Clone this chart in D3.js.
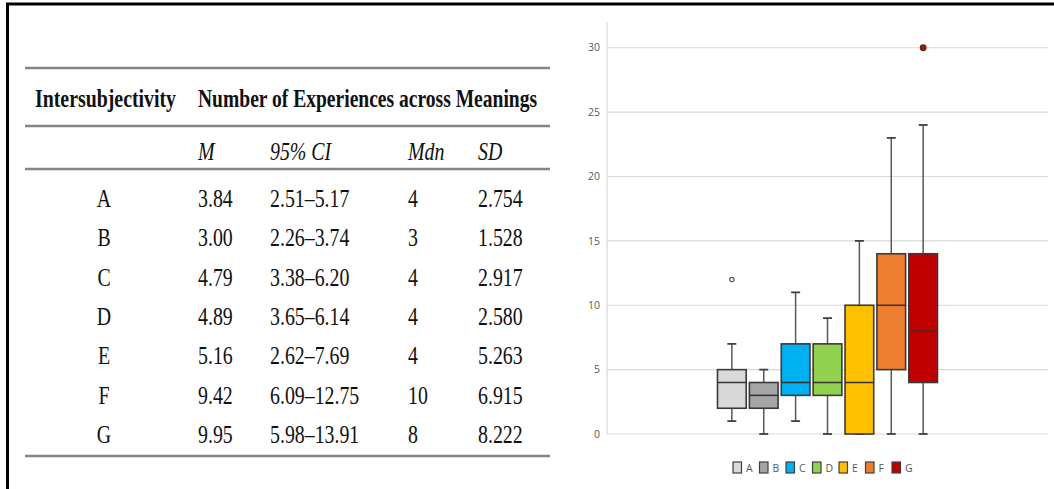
<!DOCTYPE html>
<meta charset="utf-8">
<script src="https://d3js.org/d3.v7.min.js"></script>
<style>
  body { margin: 0; background: #fff; }
</style>
<div id="my_dataviz"></div>
<script>

  // table data
  const groups = ["A", "B", "C", "D", "E", "F", "G"];
  const means = ["3.84", "3.00", "4.79", "4.89", "5.16", "9.42", "9.95"];
  const cis = ["2.51–5.17", "2.26–3.74", "3.38–6.20", "3.65–6.14", "2.62–7.69", "6.09–12.75", "5.98–13.91"];
  const medians = ["4", "3", "4", "4", "4", "10", "8"];
  const sds = ["2.754", "1.528", "2.917", "2.580", "5.263", "6.915", "8.222"];
  const subHeads = ["M", "95% CI", "Mdn", "SD"];

  // box plot data
  const whiskerLow = [1, 0, 1, 0, 0, 0, 0];
  const q1 = [2, 2, 3, 3, 0, 5, 4];
  const med = [4, 3, 4, 4, 4, 10, 8];
  const q3 = [5, 4, 7, 7, 10, 14, 14];
  const whiskerHigh = [7, 5, 11, 9, 15, 23, 24];
  const outliers = [[12], [], [], [], [], [], [30]];
  const colors = ["#D9D9D9", "#A5A5A5", "#00B0F0", "#92D050", "#FFC000", "#ED7D31", "#C00000"];
  const yTicks = [0, 5, 10, 15, 20, 25, 30];

  const W = 1054, H = 489;

  const svg = d3.select("#my_dataviz")
    .append("svg")
      .attr("width", W)
      .attr("height", H);

  // frame (top and left)
  svg.append("line").attr("x1", 6).attr("x2", W).attr("y1", 4).attr("y2", 4)
    .attr("stroke", "#000").attr("stroke-width", 3);
  svg.append("line").attr("x1", 7.5).attr("x2", 7.5).attr("y1", 3).attr("y2", H)
    .attr("stroke", "#000").attr("stroke-width", 3);

  // ---------- table ----------
  const sx = 0.81;
  const table = svg.append("g").style("font-family", "'Liberation Serif', 'Times New Roman', serif")
    .style("font-size", "24.5px").attr("fill", "#111");

  function txt(x, y, s, opts = {}) {
    const t = table.append("text")
      .attr("transform", `translate(${x},${y}) scale(${opts.sx || sx},1)`)
      .attr("text-anchor", opts.anchor || "start")
      .text(s);
    if (opts.bold) t.style("font-weight", "bold");
    if (opts.italic) t.style("font-style", "italic");
    return t;
  }

  [68, 126, 169, 456].forEach(y => {
    table.append("line").attr("x1", 25).attr("x2", 550).attr("y1", y).attr("y2", y)
      .attr("stroke", "#858585").attr("stroke-width", 2.5);
  });

  txt(35, 107, "Intersubjectivity", {bold: true});
  txt(198, 107, "Number of Experiences across Meanings", {bold: true, sx: 0.798});

  const colX = [198, 270, 408, 478];
  subHeads.forEach((s, i) => txt(colX[i], 160, s, {italic: true}));

  const rowY = d3.scalePoint().domain(groups).range([207, 443]);
  groups.forEach((g, i) => {
    const y = rowY(g);
    txt(104, y, g, {anchor: "middle"});
    txt(colX[0], y, means[i]);
    txt(colX[1], y, cis[i]);
    txt(colX[2], y, medians[i]);
    txt(colX[3], y, sds[i]);
  });

  // ---------- box plot ----------
  const plotLeft = 607, plotRight = 1048;
  const y = d3.scaleLinear().domain([0, 32]).range([434, 22]);
  const mid = (plotLeft + plotRight) / 2;
  const x = d3.scaleBand().domain(groups).range([mid - 110, mid + 110]).paddingInner(0.1);

  const chart = svg.append("g");

  chart.selectAll(".grid")
    .data(yTicks)
    .join("line")
      .attr("x1", plotLeft).attr("x2", plotRight)
      .attr("y1", d => y(d)).attr("y2", d => y(d))
      .attr("stroke", "#d9d9d9").attr("stroke-width", 1.2);

  chart.append("line")
    .attr("x1", plotLeft).attr("x2", plotLeft)
    .attr("y1", y(32)).attr("y2", y(0))
    .attr("stroke", "#d9d9d9").attr("stroke-width", 1.2);

  chart.selectAll(".ytick")
    .data(yTicks)
    .join("text")
      .attr("x", 600).attr("y", d => y(d))
      .attr("dy", "0.35em")
      .attr("text-anchor", "end")
      .style("font-family", "'Open Sans', sans-serif")
      .style("font-size", "10.5px")
      .attr("fill", "#595959")
      .text(d => d);

  const bw = x.bandwidth();
  const cap = 4.5;

  groups.forEach((g, i) => {
    const cx = x(g) + bw / 2;
    const gg = chart.append("g");
    // whiskers
    gg.append("line").attr("x1", cx).attr("x2", cx).attr("y1", y(whiskerLow[i])).attr("y2", y(q1[i]))
      .attr("stroke", "#595959").attr("stroke-width", 1.5);
    gg.append("line").attr("x1", cx).attr("x2", cx).attr("y1", y(q3[i])).attr("y2", y(whiskerHigh[i]))
      .attr("stroke", "#595959").attr("stroke-width", 1.5);
    [whiskerLow[i], whiskerHigh[i]].forEach(v => {
      gg.append("line").attr("x1", cx - cap).attr("x2", cx + cap).attr("y1", y(v)).attr("y2", y(v))
        .attr("stroke", "#404040").attr("stroke-width", 1.8);
    });
    // box
    gg.append("rect")
      .attr("x", x(g)).attr("width", bw)
      .attr("y", y(q3[i])).attr("height", y(q1[i]) - y(q3[i]))
      .attr("fill", colors[i])
      .attr("stroke", "#3a3a3a").attr("stroke-width", 1.6);
    // median
    gg.append("line").attr("x1", x(g)).attr("x2", x(g) + bw).attr("y1", y(med[i])).attr("y2", y(med[i]))
      .attr("stroke", "#333").attr("stroke-width", 1.5);
    // outliers
    outliers[i].forEach(v => {
      gg.append("circle").attr("cx", cx).attr("cy", y(v)).attr("r", g === "A" ? 2.2 : 2.8)
        .attr("fill", g === "A" ? "#fff" : "#d00000")
        .attr("stroke", g === "A" ? "#595959" : "#333").attr("stroke-width", 1.2);
    });
  });

  // legend
  const legX = d3.scalePoint().domain(groups).range([733, 892]);
  const leg = chart.selectAll(".leg")
    .data(groups)
    .join("g")
      .attr("transform", d => `translate(${legX(d)},462)`);
  leg.append("rect")
    .attr("width", 8.5).attr("height", 11)
    .attr("fill", (d, i) => colors[i])
    .attr("stroke", "#404040").attr("stroke-width", 1.2);
  leg.append("text")
    .attr("x", 13).attr("y", 10)
    .style("font-family", "'Open Sans', sans-serif")
    .style("font-size", "10.5px")
    .attr("fill", "#595959")
    .text(d => d);

</script>
